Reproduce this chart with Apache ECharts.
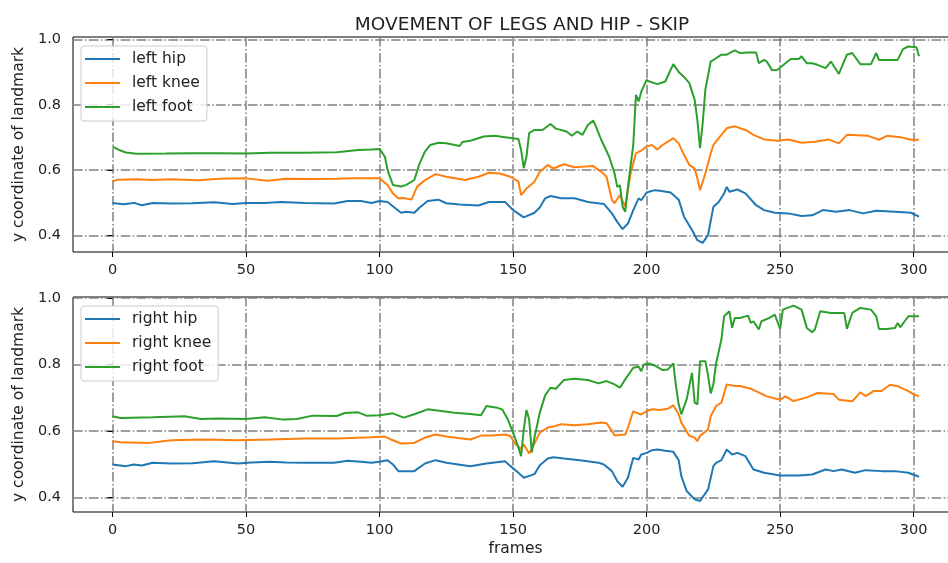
<!DOCTYPE html>
<html lang="en">

<head>
    <meta charset="UTF-8">
    <title>MOVEMENT OF LEGS AND HIP - SKIP</title>
    <style>
        html, body { margin: 0; padding: 0; background: #fff; }
        #main { width: 948px; height: 563px; }
    </style>
</head>

<body>
    <div id="main"></div>

    <script src="https://cdn.jsdelivr.net/npm/echarts@6.0.0/dist/echarts.min.js"></script>
    <script>
        // 刻度
        var xTicks = [0, 50, 100, 150, 200, 250, 300];
        var yTicks = [0.4, 0.6, 0.8, 1.0];

        // 上图：左腿 [frame, y]
        var leftHip = [[0,0.500],[4,0.496],[8,0.500],[11,0.493],[15,0.500],[22,0.498],[30,0.499],[38,0.502],[45,0.497],[50,0.500],[57,0.500],[63,0.503],[72,0.500],[83,0.498],[88,0.506],[93,0.506],[97,0.500],[100,0.506],[103,0.503],[106,0.483],[108,0.470],[110,0.473],[113,0.470],[115,0.486],[118,0.506],[122,0.510],[125,0.499],[130,0.495],[137,0.492],[141,0.503],[147,0.503],[150,0.478],[154,0.456],[158,0.470],[160,0.486],[162,0.514],[164,0.521],[168,0.514],[173,0.514],[178,0.503],[184,0.497],[187,0.468],[189,0.442],[191,0.420],[193,0.437],[195,0.478],[197,0.514],[198,0.508],[200,0.532],[203,0.539],[205,0.537],[209,0.532],[212,0.510],[214,0.458],[217,0.417],[219,0.386],[221,0.378],[223,0.402],[225,0.488],[227,0.503],[229,0.529],[230,0.549],[231,0.534],[234,0.541],[237,0.529],[241,0.493],[244,0.478],[248,0.470],[253,0.468],[258,0.460],[262,0.462],[266,0.478],[271,0.473],[276,0.478],[281,0.468],[286,0.476],[293,0.473],[299,0.470],[302,0.458]];
        var leftKnee = [[0,0.565],[2,0.571],[9,0.572],[15,0.570],[22,0.572],[32,0.569],[40,0.574],[50,0.575],[58,0.568],[65,0.574],[75,0.573],[84,0.574],[90,0.575],[97,0.575],[100,0.575],[103,0.555],[105,0.529],[107,0.514],[109,0.515],[112,0.510],[114,0.549],[117,0.570],[121,0.588],[125,0.580],[132,0.570],[137,0.580],[141,0.592],[145,0.590],[149,0.580],[152,0.565],[153,0.524],[155,0.544],[158,0.565],[160,0.595],[163,0.616],[165,0.605],[169,0.618],[173,0.609],[177,0.611],[180,0.613],[183,0.595],[185,0.580],[187,0.509],[188,0.499],[190,0.524],[192,0.489],[194,0.590],[196,0.652],[198,0.660],[200,0.672],[202,0.677],[204,0.663],[206,0.677],[210,0.698],[212,0.682],[214,0.647],[216,0.616],[218,0.605],[219,0.575],[220,0.539],[222,0.590],[224,0.652],[225,0.677],[227,0.698],[230,0.728],[233,0.734],[237,0.723],[240,0.708],[244,0.694],[249,0.690],[253,0.694],[258,0.684],[263,0.687],[268,0.694],[272,0.682],[275,0.708],[283,0.705],[287,0.693],[290,0.705],[295,0.701],[299,0.693],[302,0.693]];
        var leftFoot = [[0,0.672],[3,0.660],[5,0.654],[9,0.650],[20,0.651],[30,0.652],[40,0.652],[50,0.651],[59,0.653],[72,0.653],[84,0.655],[92,0.662],[97,0.663],[100,0.665],[102,0.641],[103,0.600],[105,0.555],[108,0.550],[110,0.555],[113,0.570],[115,0.621],[117,0.657],[119,0.677],[122,0.684],[125,0.682],[130,0.674],[131,0.686],[134,0.690],[139,0.703],[143,0.705],[147,0.701],[152,0.695],[153,0.662],[154,0.606],[155,0.641],[156,0.713],[158,0.723],[161,0.723],[164,0.741],[166,0.727],[170,0.718],[172,0.705],[174,0.718],[176,0.708],[178,0.738],[180,0.752],[181,0.734],[183,0.693],[186,0.641],[188,0.590],[189,0.549],[190,0.554],[191,0.488],[192,0.473],[193,0.549],[195,0.677],[196,0.830],[197,0.810],[198,0.840],[200,0.876],[201,0.871],[204,0.863],[207,0.871],[209,0.907],[210,0.924],[212,0.900],[214,0.885],[216,0.866],[218,0.815],[219,0.754],[220,0.667],[221,0.744],[222,0.846],[224,0.932],[226,0.942],[228,0.953],[230,0.953],[233,0.966],[235,0.958],[238,0.960],[241,0.960],[242,0.927],[244,0.937],[245,0.932],[247,0.905],[249,0.907],[252,0.927],[254,0.940],[257,0.940],[258,0.948],[260,0.927],[262,0.927],[264,0.922],[267,0.912],[269,0.932],[271,0.907],[272,0.894],[275,0.953],[277,0.958],[280,0.924],[284,0.924],[286,0.958],[287,0.937],[290,0.937],[294,0.937],[296,0.970],[298,0.978],[301,0.976],[302,0.948]];

        // 下图：右腿 [frame, y]
        var rightHip = [[0,0.499],[5,0.494],[8,0.499],[11,0.496],[15,0.504],[22,0.502],[30,0.503],[38,0.509],[47,0.502],[52,0.505],[59,0.507],[65,0.505],[72,0.504],[83,0.504],[88,0.510],[93,0.507],[97,0.504],[100,0.507],[103,0.512],[105,0.499],[107,0.479],[113,0.479],[117,0.502],[121,0.512],[125,0.504],[134,0.494],[140,0.502],[147,0.509],[149,0.494],[152,0.474],[154,0.459],[158,0.470],[160,0.497],[163,0.517],[165,0.521],[169,0.517],[175,0.512],[182,0.504],[184,0.499],[187,0.479],[189,0.449],[191,0.432],[193,0.459],[195,0.519],[197,0.514],[198,0.529],[200,0.534],[202,0.542],[204,0.544],[207,0.540],[210,0.537],[212,0.512],[213,0.464],[215,0.419],[218,0.394],[220,0.389],[223,0.424],[225,0.494],[226,0.504],[228,0.512],[230,0.544],[232,0.529],[234,0.534],[237,0.524],[240,0.484],[244,0.474],[250,0.466],[257,0.466],[262,0.469],[267,0.484],[270,0.479],[273,0.484],[278,0.474],[282,0.482],[288,0.479],[293,0.479],[298,0.474],[302,0.462]];
        var rightKnee = [[0,0.569],[3,0.566],[14,0.564],[22,0.572],[34,0.574],[47,0.572],[59,0.574],[72,0.577],[84,0.577],[97,0.581],[102,0.583],[104,0.575],[108,0.562],[113,0.564],[117,0.580],[121,0.589],[125,0.583],[130,0.578],[134,0.574],[138,0.586],[142,0.586],[147,0.589],[149,0.584],[151,0.559],[153,0.546],[154,0.559],[156,0.532],[158,0.562],[160,0.595],[163,0.610],[165,0.613],[168,0.620],[173,0.617],[178,0.620],[183,0.625],[185,0.623],[187,0.600],[188,0.586],[192,0.589],[193,0.610],[195,0.659],[198,0.649],[200,0.660],[202,0.665],[205,0.663],[208,0.667],[210,0.677],[212,0.650],[213,0.625],[216,0.585],[218,0.580],[219,0.569],[220,0.585],[223,0.604],[224,0.644],[226,0.675],[228,0.685],[230,0.740],[233,0.735],[235,0.735],[239,0.727],[245,0.704],[250,0.694],[252,0.704],[255,0.690],[260,0.701],[264,0.714],[270,0.711],[272,0.694],[277,0.689],[280,0.716],[282,0.705],[285,0.720],[288,0.720],[291,0.738],[294,0.735],[298,0.720],[300,0.710],[302,0.704]];
        var rightFoot = [[0,0.644],[3,0.639],[15,0.641],[27,0.644],[33,0.636],[40,0.637],[50,0.636],[57,0.641],[64,0.634],[69,0.636],[75,0.646],[84,0.645],[87,0.654],[92,0.656],[95,0.646],[100,0.647],[105,0.653],[109,0.640],[113,0.650],[118,0.665],[123,0.660],[128,0.655],[134,0.651],[138,0.647],[140,0.675],[144,0.670],[146,0.664],[148,0.635],[150,0.595],[152,0.550],[153,0.524],[154,0.605],[155,0.663],[156,0.635],[157,0.535],[158,0.580],[160,0.655],[162,0.707],[164,0.730],[166,0.727],[169,0.753],[173,0.757],[178,0.753],[182,0.743],[185,0.750],[188,0.740],[190,0.730],[192,0.755],[195,0.790],[197,0.793],[198,0.780],[199,0.800],[201,0.803],[203,0.797],[206,0.783],[208,0.785],[210,0.803],[211,0.735],[212,0.680],[213,0.650],[215,0.695],[217,0.775],[218,0.685],[219,0.680],[220,0.810],[222,0.810],[223,0.767],[224,0.713],[225,0.740],[226,0.803],[228,0.875],[229,0.945],[231,0.960],[232,0.910],[233,0.940],[235,0.940],[238,0.947],[239,0.925],[240,0.930],[242,0.905],[243,0.930],[246,0.940],[248,0.950],[250,0.907],[251,0.965],[255,0.977],[258,0.965],[260,0.910],[262,0.897],[263,0.905],[265,0.960],[269,0.955],[274,0.955],[275,0.907],[277,0.955],[280,0.970],[284,0.965],[286,0.945],[287,0.907],[290,0.907],[293,0.910],[294,0.925],[295,0.912],[298,0.945],[302,0.945]];

        var FONT = '"DejaVu Sans", sans-serif';
        var gridLine = { color: '#808080', width: 1.5, type: [9.6, 2.4, 1.5, 2.4] };

        function xAxisOf(gridIndex, name) {
            return {
                type: 'value',
                gridIndex: gridIndex,
                min: -14.8,
                max: 316.6,
                name: name,
                nameLocation: 'middle',
                nameGap: 29,
                nameTextStyle: { fontFamily: FONT, fontSize: 15.5, color: '#222' },
                axisLine: { show: false },
                axisTick: { show: true, length: 5, customValues: xTicks, lineStyle: { color: '#000', width: 1 } },
                axisLabel: { customValues: xTicks, margin: 11, fontFamily: FONT, fontSize: 14.5, color: '#222' },
                splitLine: { show: true, lineStyle: gridLine }
            };
        }

        function yAxisOf(gridIndex, min, max) {
            return {
                type: 'value',
                gridIndex: gridIndex,
                min: min,
                max: max,
                name: 'y coordinate of landmark',
                nameLocation: 'middle',
                nameGap: 44,
                nameTextStyle: { fontFamily: FONT, fontSize: 15.5, color: '#222' },
                axisLine: { show: false },
                axisTick: { show: true, length: 5, customValues: yTicks, lineStyle: { color: '#000', width: 1 } },
                axisLabel: {
                    customValues: yTicks, margin: 12, fontFamily: FONT, fontSize: 14.5, color: '#222',
                    formatter: function (v) { return v.toFixed(1); }
                },
                splitLine: { show: true, lineStyle: gridLine }
            };
        }

        function legendOf(top, names) {
            return {
                orient: 'vertical',
                left: 81,
                top: top,
                data: names,
                icon: 'rect',
                itemWidth: 35,
                itemHeight: 2,
                itemGap: 8,
                padding: [5, 7, 6, 4],
                borderColor: '#cccccc',
                borderWidth: 1,
                borderRadius: 3,
                backgroundColor: 'rgba(255,255,255,0.8)',
                selectedMode: false,
                textStyle: { fontFamily: FONT, fontSize: 15.5, color: '#222', lineHeight: 16, padding: [0, 0, 0, 7] }
            };
        }

        function lineOf(name, data, color, axisIndex) {
            return {
                name: name,
                type: 'line',
                xAxisIndex: axisIndex,
                yAxisIndex: axisIndex,
                data: data,
                symbol: 'none',
                color: color,
                lineStyle: { width: 2, color: color },
                emphasis: { disabled: true }
            };
        }

        // 网格向右超出画布，右边框不显示
        function gridOf(top) {
            return {
                left: 73, top: top, width: 885, height: 215,
                outerBoundsMode: 'none',
                containLabel: false,
                show: true, borderColor: '#000', borderWidth: 1, backgroundColor: 'transparent'
            };
        }

        var chart = echarts.init(document.getElementById('main'));

        var option = {
            animation: false,
            backgroundColor: '#fff',
            title: {
                text: 'MOVEMENT OF LEGS AND HIP - SKIP',
                left: 517,
                top: 11,
                textAlign: 'center',
                textStyle: { fontFamily: FONT, fontSize: 18.5, fontWeight: 'normal', color: '#222' }
            },
            legend: [
                legendOf(46, ['left hip', 'left knee', 'left foot']),
                legendOf(306, ['right hip', 'right knee', 'right foot'])
            ],
            grid: [gridOf(37), gridOf(297)],
            xAxis: [xAxisOf(0, ''), xAxisOf(1, 'frames')],
            yAxis: [yAxisOf(0, 0.350, 1.007), yAxisOf(1, 0.356, 1.003)],
            series: [
                lineOf('left hip', leftHip, '#1f77b4', 0),
                lineOf('left knee', leftKnee, '#ff7f0e', 0),
                lineOf('left foot', leftFoot, '#2ca02c', 0),
                lineOf('right hip', rightHip, '#1f77b4', 1),
                lineOf('right knee', rightKnee, '#ff7f0e', 1),
                lineOf('right foot', rightFoot, '#2ca02c', 1)
            ]
        };

        chart.setOption(option);
    </script>
</body>

</html>
